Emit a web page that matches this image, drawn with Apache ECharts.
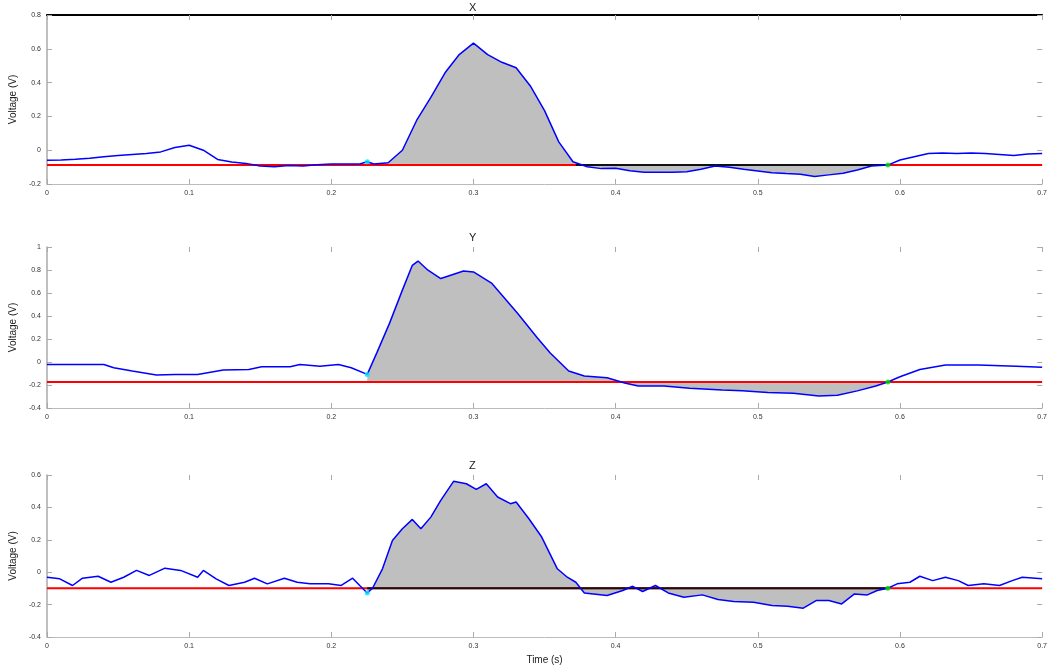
<!DOCTYPE html>
<html>
<head>
<meta charset="utf-8">
<script src="https://cdn.jsdelivr.net/npm/echarts@6/dist/echarts.min.js"></script>
<style>
  html, body { margin: 0; background: #fff; }
  #main { width: 1050px; height: 666px; }
</style>
</head>
<body>
<div id="main"></div>
<script>
// panel titles
const panelNames = ['X', 'Y', 'Z'];

// X channel
const xTime = [0, 0.01, 0.02, 0.03, 0.04, 0.05, 0.06, 0.07, 0.08, 0.09, 0.1, 0.11, 0.12, 0.13, 0.14, 0.15, 0.16, 0.17, 0.18, 0.19, 0.2, 0.21, 0.22, 0.2253, 0.23, 0.24, 0.25, 0.26, 0.27, 0.28, 0.29, 0.3, 0.31, 0.32, 0.33, 0.34, 0.35, 0.36, 0.37, 0.38, 0.39, 0.4, 0.41, 0.42, 0.43, 0.44, 0.45, 0.46, 0.47, 0.48, 0.49, 0.5, 0.51, 0.52, 0.53, 0.54, 0.55, 0.56, 0.57, 0.58, 0.5915, 0.6, 0.61, 0.62, 0.63, 0.64, 0.65, 0.66, 0.67, 0.68, 0.69, 0.7];
const xVolt = [-0.06, -0.058, -0.054, -0.047, -0.039, -0.031, -0.025, -0.02, -0.01, 0.016, 0.029, 0, -0.055, -0.07, -0.078, -0.094, -0.098, -0.09, -0.094, -0.086, -0.082, -0.082, -0.082, -0.068, -0.082, -0.074, 0, 0.176, 0.312, 0.458, 0.566, 0.634, 0.566, 0.52, 0.488, 0.38, 0.234, 0.049, -0.068, -0.098, -0.109, -0.107, -0.121, -0.131, -0.131, -0.131, -0.127, -0.113, -0.094, -0.101, -0.113, -0.123, -0.133, -0.138, -0.142, -0.156, -0.146, -0.136, -0.117, -0.094, -0.088, -0.058, -0.039, -0.02, -0.016, -0.02, -0.016, -0.02, -0.025, -0.031, -0.023, -0.02];

// Y channel
const yTime = [0, 0.02, 0.04, 0.047, 0.06, 0.077, 0.09, 0.106, 0.124, 0.142, 0.151, 0.171, 0.178, 0.192, 0.205, 0.214, 0.2253, 0.232, 0.241, 0.25, 0.257, 0.261, 0.268, 0.277, 0.284, 0.293, 0.3, 0.313, 0.331, 0.345, 0.354, 0.367, 0.378, 0.394, 0.407, 0.416, 0.434, 0.452, 0.475, 0.489, 0.507, 0.525, 0.543, 0.556, 0.57, 0.583, 0.5915, 0.6, 0.614, 0.632, 0.655, 0.682, 0.7];
const yVolt = [-0.022, -0.022, -0.022, -0.05, -0.079, -0.114, -0.108, -0.108, -0.07, -0.066, -0.042, -0.042, -0.022, -0.036, -0.022, -0.05, -0.108, 0.079, 0.338, 0.625, 0.841, 0.878, 0.798, 0.726, 0.755, 0.792, 0.783, 0.683, 0.424, 0.208, 0.079, -0.079, -0.122, -0.137, -0.185, -0.209, -0.209, -0.229, -0.243, -0.251, -0.266, -0.272, -0.295, -0.289, -0.251, -0.209, -0.174, -0.128, -0.065, -0.027, -0.027, -0.036, -0.045];

// Z channel
const zTime = [0, 0.009, 0.018, 0.025, 0.036, 0.045, 0.054, 0.063, 0.072, 0.083, 0.094, 0.106, 0.11, 0.119, 0.128, 0.139, 0.146, 0.155, 0.167, 0.176, 0.185, 0.198, 0.207, 0.215, 0.22, 0.2253, 0.229, 0.236, 0.243, 0.25, 0.257, 0.263, 0.27, 0.277, 0.286, 0.295, 0.302, 0.309, 0.317, 0.326, 0.33, 0.339, 0.348, 0.359, 0.366, 0.372, 0.378, 0.394, 0.405, 0.412, 0.419, 0.428, 0.437, 0.448, 0.461, 0.472, 0.483, 0.497, 0.51, 0.521, 0.532, 0.541, 0.55, 0.559, 0.568, 0.577, 0.584, 0.5915, 0.598, 0.607, 0.614, 0.623, 0.632, 0.641, 0.648, 0.659, 0.67, 0.679, 0.686, 0.7];
const zVolt = [-0.031, -0.041, -0.082, -0.037, -0.025, -0.062, -0.031, 0.011, -0.02, 0.025, 0.011, -0.031, 0.011, -0.041, -0.082, -0.062, -0.037, -0.072, -0.037, -0.062, -0.072, -0.072, -0.082, -0.037, -0.082, -0.128, -0.099, 0.021, 0.196, 0.268, 0.326, 0.268, 0.34, 0.443, 0.561, 0.546, 0.511, 0.546, 0.464, 0.423, 0.433, 0.33, 0.217, 0.021, -0.031, -0.062, -0.128, -0.144, -0.113, -0.087, -0.119, -0.082, -0.128, -0.155, -0.14, -0.169, -0.181, -0.185, -0.206, -0.21, -0.222, -0.175, -0.175, -0.196, -0.134, -0.14, -0.113, -0.099, -0.072, -0.062, -0.025, -0.052, -0.031, -0.052, -0.082, -0.072, -0.082, -0.052, -0.031, -0.041];

const times = [xTime, yTime, zTime];
const volts = [xVolt, yVolt, zVolt];

// baseline and event window per channel
const baselines = [-0.088, -0.174, -0.099];
const eventStart = [0.2253, 0.2253, 0.2253];
const eventEnd = [0.5915, 0.5915, 0.5915];
const blackFrom = [0.372, null, 0.2253];

// axis ranges
const timeMin = 0, timeMax = 0.7, timeStep = 0.1;
const yMin = [-0.2, -0.4, -0.4];
const yMax = [0.8, 1.0, 0.6];
const yStep = [0.2, 0.2, 0.2];

const grids = [
  { left: 43, right: 7, top: 15, height: 169 },
  { left: 43, right: 7, top: 247, height: 161 },
  { left: 43, right: 7, top: 475, height: 162 }
];
const titleTops = [-3, 227, 455];

const font = 'Liberation Sans';
const chart = echarts.init(document.getElementById('main'));

const xAxes = [], yAxes = [], series = [], titles = [];

grids.forEach((g, i) => {
  titles.push({
    text: panelNames[i], left: 464, top: titleTops[i],
    textStyle: { fontSize: 11, fontWeight: 'normal', color: '#222', fontFamily: font }
  });
  xAxes.push({
    type: 'value', gridIndex: i, min: timeMin, max: timeMax, interval: timeStep,
    position: 'bottom',
    name: i === 2 ? 'Time (s)' : '', nameLocation: 'middle', nameGap: 18,
    nameTextStyle: { fontSize: 10, color: '#222', fontFamily: font },
    axisLine: { onZero: false, lineStyle: { color: '#bbb', width: 1 } },
    axisTick: { inside: true, length: 5, lineStyle: { color: '#aaa' } },
    axisLabel: { fontSize: 7, color: '#333', margin: 6, fontFamily: font },
    splitLine: { show: false }
  });
  xAxes.push({
    type: 'value', gridIndex: i, min: timeMin, max: timeMax, interval: timeStep,
    position: 'top',
    axisLine: { show: i === 0, onZero: false, lineStyle: { color: '#000', width: 2 } },
    axisTick: { show: true, inside: true, length: 5, lineStyle: { color: '#aaa' } },
    axisLabel: { show: false },
    splitLine: { show: false }
  });
  yAxes.push({
    type: 'value', gridIndex: i, min: yMin[i], max: yMax[i], interval: yStep[i],
    position: 'left',
    name: 'Voltage (V)', nameLocation: 'middle', nameGap: 22, nameRotate: 90,
    nameTextStyle: { fontSize: 10, color: '#222', fontFamily: font },
    axisLine: { show: true, onZero: false, lineStyle: { color: '#aaa', width: 1.5 } },
    axisTick: { inside: true, length: 5, lineStyle: { color: '#aaa' } },
    axisLabel: { fontSize: 7, color: '#333', margin: 6, fontFamily: font },
    splitLine: { show: false }
  });
  yAxes.push({
    type: 'value', gridIndex: i, min: yMin[i], max: yMax[i], interval: yStep[i],
    position: 'right',
    axisLine: { show: false, onZero: false },
    axisTick: { show: true, inside: true, length: 5, lineStyle: { color: '#aaa' } },
    axisLabel: { show: false },
    splitLine: { show: false }
  });

  const t = times[i], v = volts[i];
  const curve = t.map((tt, k) => [tt, v[k]]);
  const fill = curve.filter(p => p[0] >= eventStart[i] && p[0] <= eventEnd[i]);
  const xa = i * 2, ya = i * 2;

  series.push({
    type: 'line', xAxisIndex: xa, yAxisIndex: ya, data: fill,
    symbol: 'none', lineStyle: { width: 0 },
    areaStyle: { color: '#bfbfbf', opacity: 1, origin: baselines[i] },
    silent: true, z: 1
  });
  series.push({
    type: 'line', xAxisIndex: xa, yAxisIndex: ya,
    data: [[timeMin, baselines[i]], [timeMax, baselines[i]]],
    symbol: 'none', lineStyle: { color: '#ff0000', width: 2 }, z: 2
  });
  if (blackFrom[i] !== null) {
    series.push({
      type: 'line', xAxisIndex: xa, yAxisIndex: ya,
      data: [[blackFrom[i], baselines[i]], [eventEnd[i], baselines[i]]],
      symbol: 'none', lineStyle: { color: '#111', width: 2 }, z: 3
    });
  }
  series.push({
    type: 'line', xAxisIndex: xa, yAxisIndex: ya, data: curve,
    symbol: 'none', lineStyle: { color: '#0000ff', width: 1.5 }, z: 4
  });
  const startIdx = t.indexOf(eventStart[i]);
  series.push({
    type: 'scatter', xAxisIndex: xa, yAxisIndex: ya,
    data: [[eventStart[i], v[startIdx]]],
    symbol: 'circle', symbolSize: 5, itemStyle: { color: '#00e5ff' }, z: 5
  });
  series.push({
    type: 'scatter', xAxisIndex: xa, yAxisIndex: ya,
    data: [[eventEnd[i], baselines[i]]],
    symbol: 'circle', symbolSize: 5, itemStyle: { color: '#00dd00' }, z: 5
  });
});

chart.setOption({
  animation: false,
  backgroundColor: '#fff',
  title: titles,
  grid: grids,
  xAxis: xAxes,
  yAxis: yAxes,
  series: series
});
</script>
</body>
</html>
